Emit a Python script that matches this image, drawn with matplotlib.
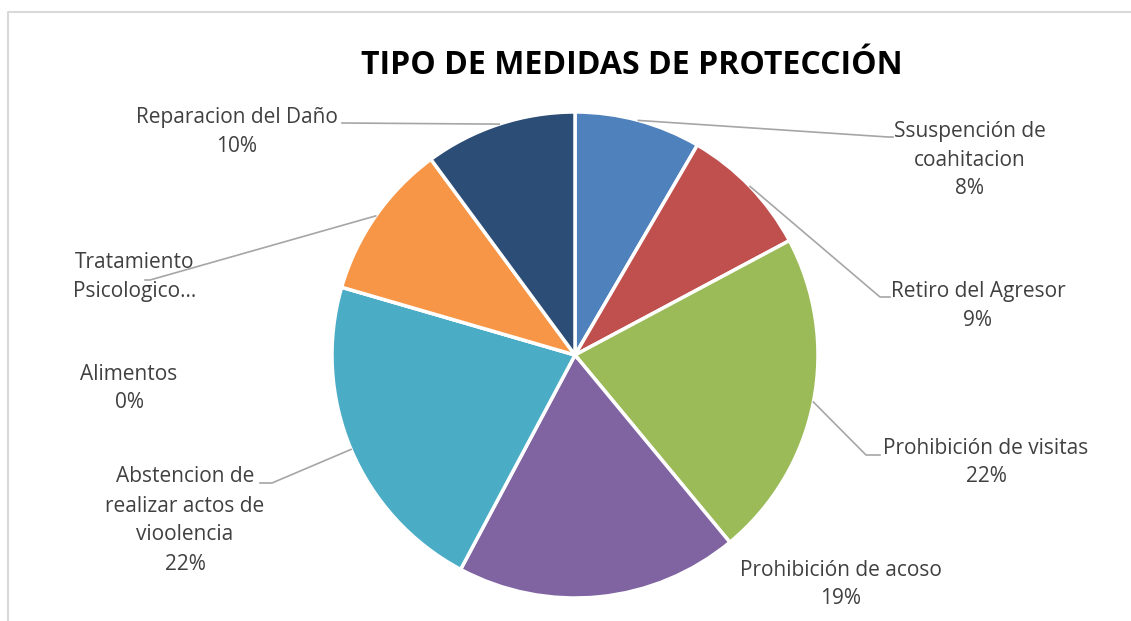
import matplotlib
matplotlib.use("Agg")
import matplotlib.pyplot as plt
import numpy as np

categories = ["Ssuspención de\ncoahitacion", "Retiro del Agresor", "Prohibición de visitas",
              "Prohibición de acoso", "Abstencion de\nrealizar actos de\nvioolencia", "Alimentos",
              "Tratamiento\nPsicologico…", "Reparacion del Daño"]
values = [8.4, 8.8, 21.8, 18.8, 21.7, 0.0, 10.4, 10.1]
show_pct = [True, True, True, True, True, True, False, True]  # truncated label in source
colors = ["#4F81BD", "#C0504D", "#9BBB59", "#8064A2", "#4BACC6", "#F79646", "#F79646", "#2C4D75"]

W, H = 1131, 621
fig = plt.figure(figsize=(W / 100, H / 100), dpi=100)
ax = fig.add_axes([0, 0, 1, 1])
ax.set_xlim(0, W)
ax.set_ylim(0, H)
ax.set_aspect("equal")
ax.axis("off")

# chart border (light gray)
ax.plot([8, 8, W], [0, H - 12, H - 12], color="#D9D9D9", lw=1.5, solid_capstyle="butt")

cx, cy, R = 575, H - 355, 243
wedges, _ = ax.pie(values, colors=colors, startangle=90, counterclock=False,
                   center=(cx, cy), radius=R, frame=True,
                   wedgeprops=dict(edgecolor="white", linewidth=2.5))
ax.set_xlim(0, W)
ax.set_ylim(0, H)
ax.axis("off")

txt_color = "#404040"
fs = 15
font = "Open Sans"

# label layout: (text center x, first line y from top, leader elbow (x,y) or None, horizontal end x)
layout = [
    (970, 131, (888, 137), 893),
    (978, 292, (880, 297), 890),
    (986, 448, (866, 455), 880),
    (841, 570, None, None),
    (185, 477, (272, 483), 260),
    (129, 374, None, None),
    (135, 262, (150, 280), 145),
    (237, 118, (342, 123), 342),
]

total = sum(values)
line_h = 29
for w, cat, v, sp, (tx, ty, elbow, hx) in zip(wedges, categories, values, show_pct, layout):
    lines = cat.split("\n")
    if sp:
        lines.append(f"{v / total * 100:.0f}%")
    for i, ln in enumerate(lines):
        ax.text(tx, H - (ty + i * line_h), ln, ha="center", va="center",
                fontsize=fs, color=txt_color, family=font)
    if elbow is not None:
        ang = np.deg2rad((w.theta1 + w.theta2) / 2)
        px = cx + R * np.cos(ang)
        py = cy + R * np.sin(ang)
        ex, ey = elbow[0], H - elbow[1]
        ax.plot([px, ex, hx], [py, ey, ey], color="#A6A6A6", lw=1.2)

ax.text(632, H - 66, "TIPO DE MEDIDAS DE PROTECCIÓN", ha="center", va="center",
        fontsize=23, fontweight="bold", color="black", family=font)

fig.savefig("out.png", dpi=100)
